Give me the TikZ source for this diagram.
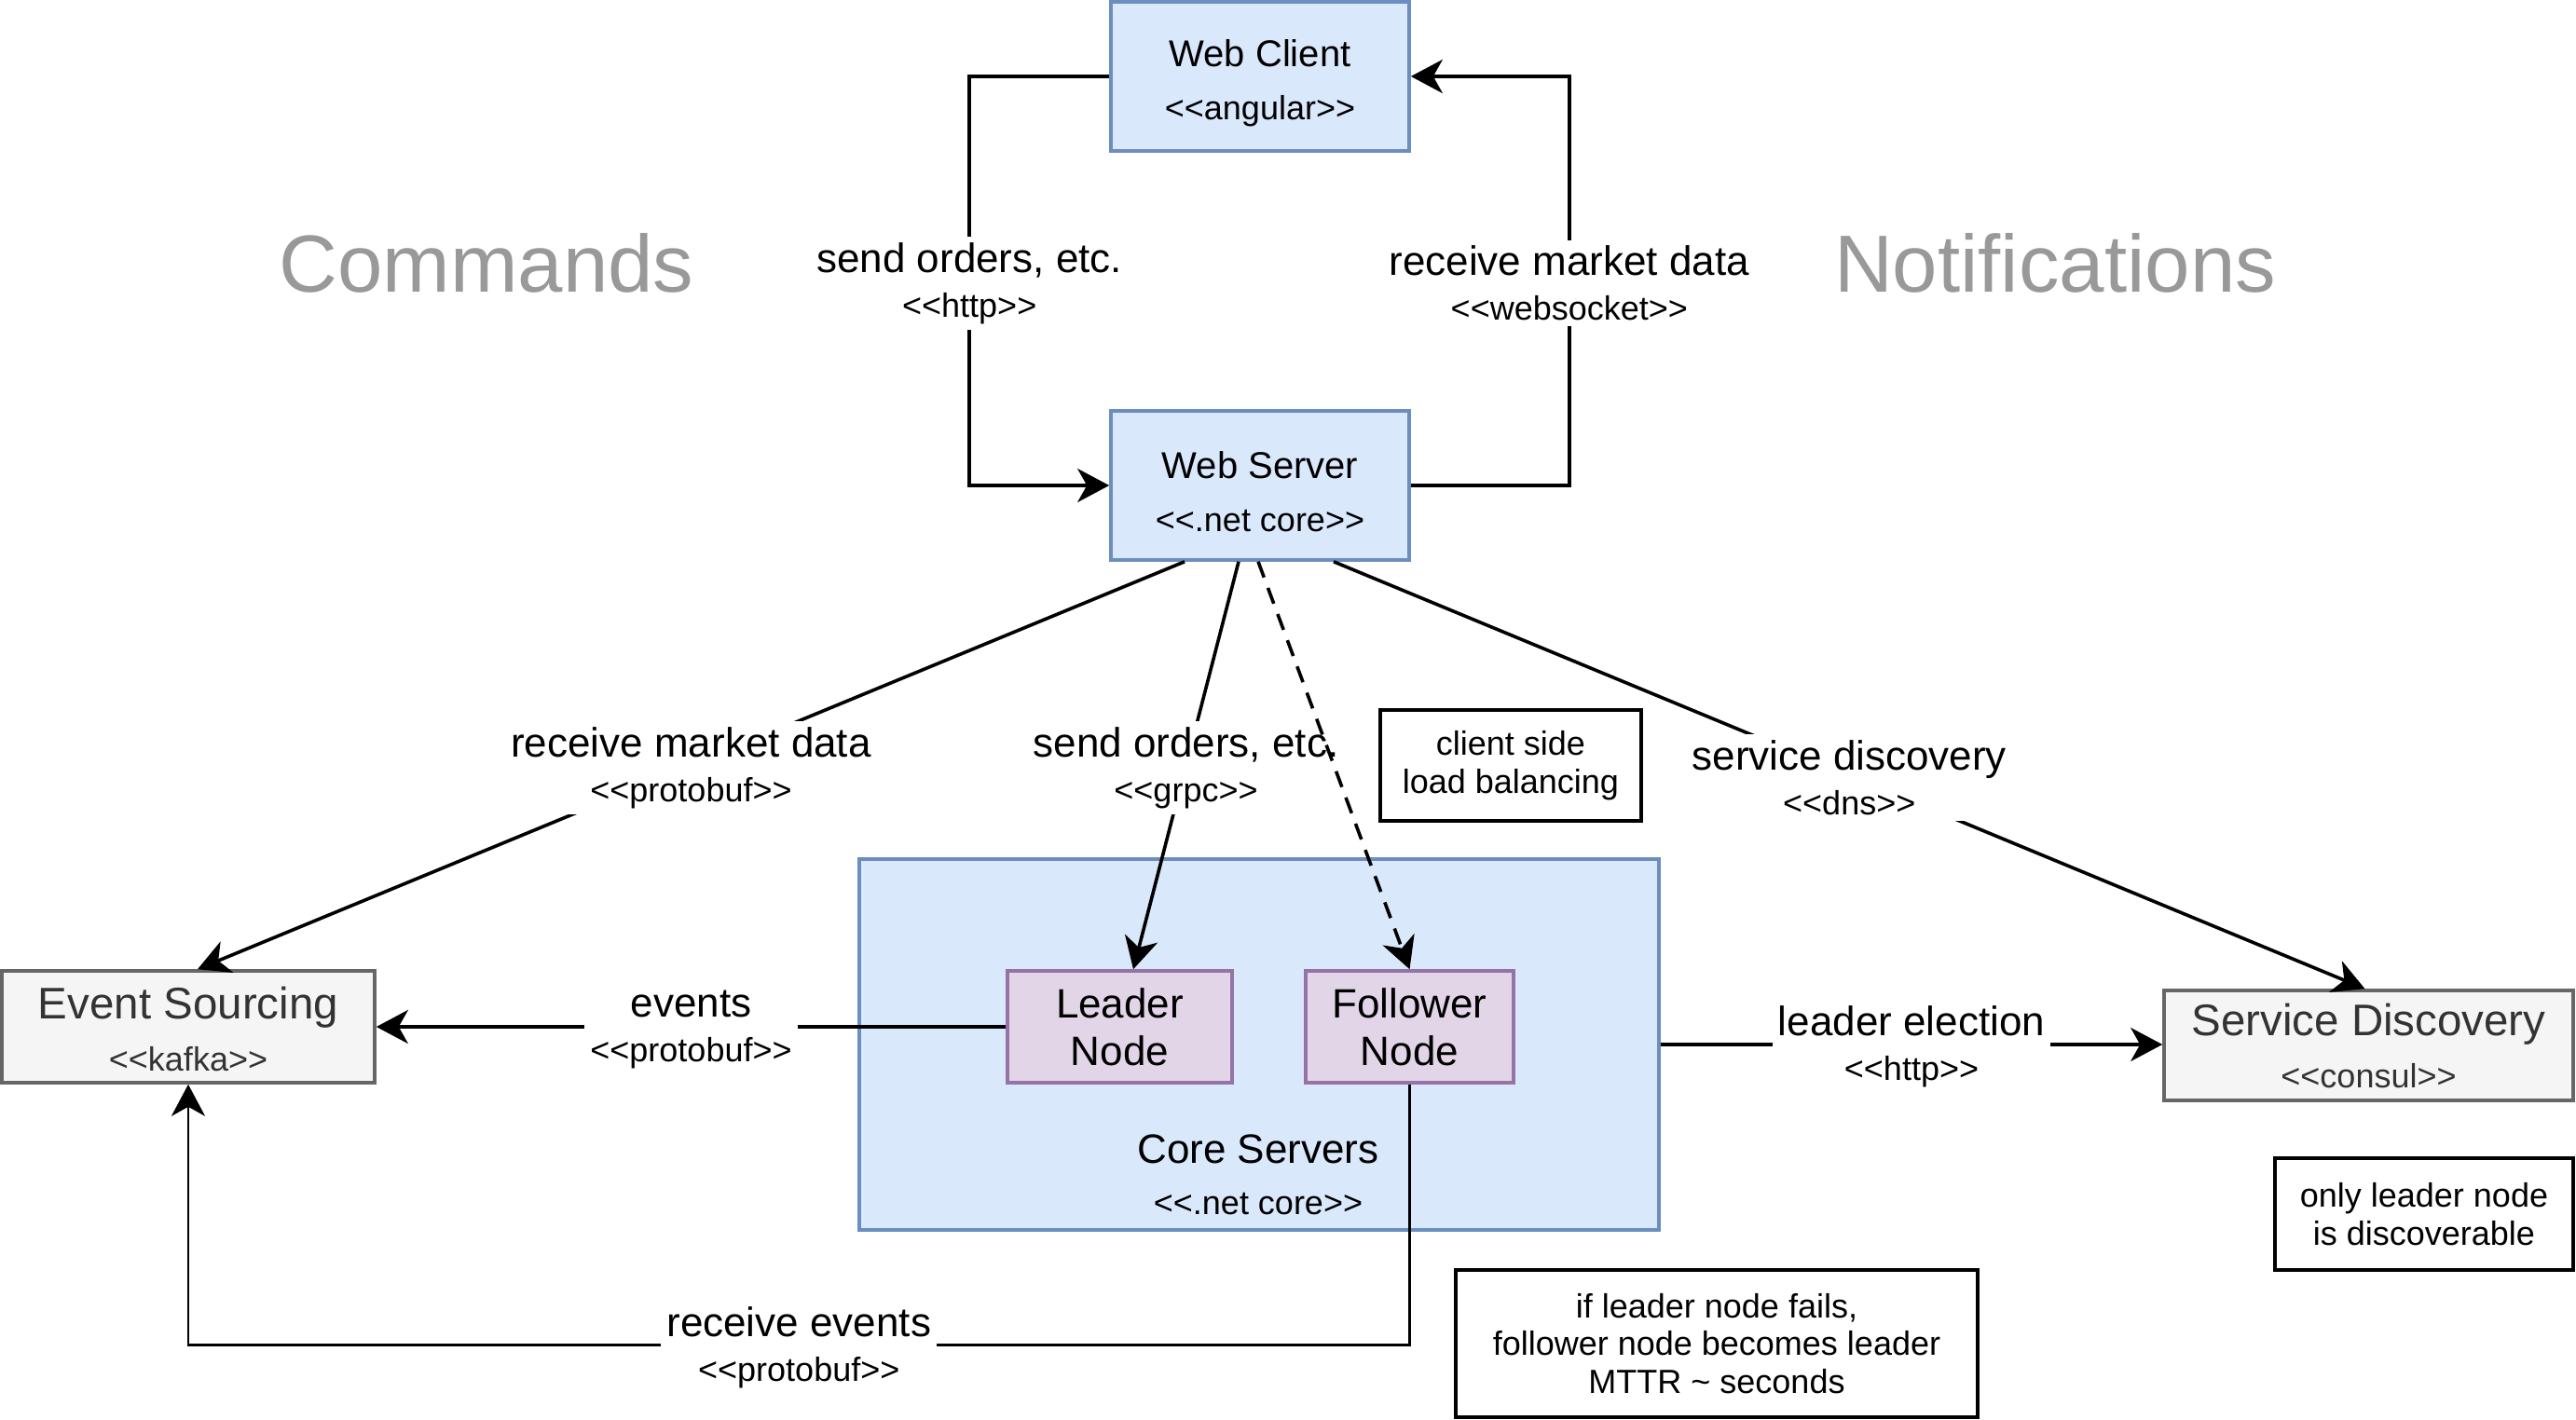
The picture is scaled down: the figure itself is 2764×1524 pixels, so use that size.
\documentclass[tikz,border=0pt]{standalone}
\usepackage{fontspec}
\setmainfont{Liberation Sans}[Ligatures=TeXOff]
\usetikzlibrary{arrows.meta}
\definecolor{bluefill}{HTML}{DAE8FC}
\definecolor{bluedraw}{HTML}{6C8EBF}
\definecolor{purfill}{HTML}{E1D5E7}
\definecolor{purdraw}{HTML}{9673A6}
\definecolor{grayfill}{HTML}{F5F5F5}
\definecolor{graydraw}{HTML}{666666}
\definecolor{graytext}{HTML}{333333}
\definecolor{headgray}{HTML}{999999}
\newcommand{\stereo}[1]{{\fontsize{18}{22}\selectfont #1}}
\newcommand{\toppad}[1]{\rule{0pt}{#1}}
\tikzset{
  box/.style={draw, line width=1.8pt, inner sep=0pt, align=center},
  bluebox/.style={box, draw=bluedraw, fill=bluefill, font=\fontsize{20}{28.5}\selectfont},
  graybox/.style={box, draw=graydraw, fill=grayfill, text=graytext, font=\fontsize{23.75}{28}\selectfont},
  purbox/.style={box, draw=purdraw, fill=purfill, font=\fontsize{22}{25.5}\selectfont},
  notebox/.style={box, draw=black, fill=white, font=\fontsize{18}{20.25}\selectfont},
  lbl/.style={fill=white, inner sep=3pt, align=center, yshift=-1.3pt, font=\fontsize{22}{24}\selectfont},
  heading/.style={text=headgray, font=\fontsize{43.5}{50}\selectfont},
  conn/.style={line width=1.8pt},
  arr/.style={conn, -{Stealth[length=17pt,width=18pt,inset=5pt]}},
}
\begin{document}
\begin{tikzpicture}[x=0.5pt,y=-0.5pt]
\useasboundingbox (0,0) rectangle (2764,1524);

% containers and boxes
\node[box, draw=bluedraw, fill=bluefill, minimum width=429pt, minimum height=199pt] (core) at (1351,1121) {};
\node[font=\fontsize{22}{27.5}\selectfont, align=center] (corelbl) at (1350,1261) {Core Servers\\\stereo{<<.net core>>}};

\node[bluebox, minimum width=160pt, minimum height=80pt] (wc) at (1352,82) {\toppad{22pt}Web Client\\\stereo{<<angular>>}};
\node[bluebox, minimum width=160pt, minimum height=80pt] (ws) at (1352,521) {\toppad{21pt}Web Server\\\stereo{<<.net core>>}};

\node[graybox, minimum width=200pt, minimum height=60pt] (es) at (202,1102) {\toppad{19.5pt}Event Sourcing\\\stereo{<<kafka>>}};
\node[graybox, minimum width=219.5pt, minimum height=59pt] (sd) at (2541.5,1122) {Service Discovery\\\stereo{<<consul>>}};

\node[purbox, minimum width=120.5pt, minimum height=60pt] (leader) at (1201.5,1102) {Leader\\Node};
\node[purbox, minimum width=111.5pt, minimum height=60pt] (follower) at (1512.5,1102) {Follower\\Node};

\node[notebox, minimum width=140pt, minimum height=59.5pt] (n1) at (1621,821.5) {client side\\load balancing};
\node[notebox, minimum width=160pt, minimum height=60pt] (n2) at (2601,1303) {only leader node\\is discoverable};
\node[notebox, minimum width=280pt, minimum height=79pt] (n3) at (1842,1442) {if leader node fails,\\follower node becomes leader\\MTTR \textasciitilde{} seconds};

% headings
\node[heading] (cmd) at (522,282) {Commands};
\node[heading] (notif) at (2205,282) {Notifications};

% connectors
\draw[arr] (wc.west) -| ([xshift=-75pt]ws.west) node[pos=0.75, lbl] (l1) {send orders, etc.\\\stereo{<<http>>}} -- (ws.west);
\draw[arr] (ws.east) -| ([xshift=85pt]wc.east) node[pos=0.75, lbl] (l2) {receive market data\\\stereo{<<websocket>>}} -- (wc.east);

\draw[arr] ([xshift=-40.5pt]ws.south) -- ([xshift=5pt]es.north) node[midway, lbl] (l3) {receive market data\\\stereo{<<protobuf>>}};
\draw[arr] ([xshift=-11.5pt]ws.south) -- ([xshift=7.25pt]leader.north) node[midway, lbl] (l4) {send orders, etc.\\\stereo{<<grpc>>}};
\draw[arr, dash pattern=on 9pt off 6pt] ([xshift=-1pt]ws.south) -- (follower.north);
\draw[arr] ([xshift=39.5pt]ws.south) -- ([xshift=-2pt]sd.north) node[midway, lbl] (l5) {service discovery\\\stereo{<<dns>>}};

\draw[arr] (leader.west) -- (es.east) node[midway, lbl] (l6) {events\\\stereo{<<protobuf>>}};
\draw[arr] (core.east) -- (core.east -| sd.west) node[midway, lbl] (l7) {leader election\\\stereo{<<http>>}};
\draw[arr, line width=1.4pt] (follower.south) |- ([yshift=-140pt]es.south) node[pos=0.75, lbl] (l8) {receive events\\\stereo{<<protobuf>>}} -- (es.south);
\end{tikzpicture}
\end{document}
